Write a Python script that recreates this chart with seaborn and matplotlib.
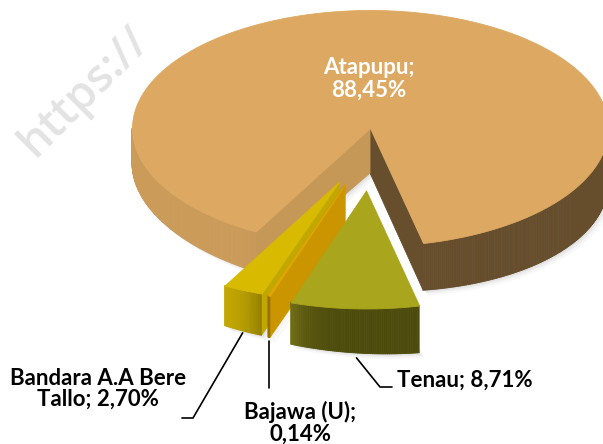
import numpy as np
import matplotlib
matplotlib.use("Agg")
import matplotlib.pyplot as plt
import matplotlib.colors as mcolors
from matplotlib.collections import PolyCollection
import seaborn as sns

# ---------------- data ----------------
names = ["Atapupu", "Bandara A.A Bere Tallo", "Bajawa (U)", "Tenau"]
shares = [88.45, 2.70, 0.14, 8.71]

# ---------------- styles ----------------
top_colors = ["#DDA962", "#D8BA00", "#E2A600", "#A9A51C"]
explode = [0.0, 0.50, 0.50, 0.53]
start_angle = -77.1

sns.set_theme(style="white")
plt.rcParams['font.family'] = ['Lato', 'DejaVu Sans']

W, H = 603, 444
fig = plt.figure(figsize=(W / 100, H / 100), dpi=100)
ax = fig.add_axes([0, 0, 1, 1])
ax.set_xlim(0, W)
ax.set_ylim(H, 0)
ax.axis('off')

CX, CY, RX, RY = 370.0, 128.0, 238.0, 118.0
D0, D1 = 45.0, 10.0   # wall depth, thicker on the right side
KX = 0.65             # horizontal share of the explosion offset


def depth(t):
    return D0 + D1 * np.cos(np.radians(t))


def wall_factor(t):
    t = t % 360
    return 0.46 + 0.46 / (1 + np.exp((t - 251.0) / 3.0))


def radial_factor(normal):
    return 0.43 + 0.47 * (0.5 + 0.5 * np.cos(np.radians(normal - 340)))


def shade(color, f):
    r, g, b = mcolors.to_rgb(color)
    return (r * f, g * f, b * f)


vals = np.array(shares, dtype=float)
bounds = start_angle + 360 * np.concatenate([[0], np.cumsum(vals)]) / vals.sum()

geo = []
for i, v in enumerate(vals):
    t1, t2 = bounds[i], bounds[i + 1]
    mid = np.radians((t1 + t2) / 2)
    ox = KX * explode[i] * RX * np.cos(mid)
    oy = -explode[i] * RY * np.sin(mid)
    geo.append((t1, t2, ox, oy))


def rim(t, ox, oy):
    r = np.radians(t)
    return CX + ox + RX * np.cos(r), CY + oy - RY * np.sin(r)


# watermark
ax.text(84, 92, "https://", rotation=45, rotation_mode="anchor", fontsize=33,
        color="#E3E3E3", ha="center", va="center", fontweight="semibold",
        family=["Open Sans", "DejaVu Sans"], zorder=0)

# soft shadow under the pieces
for i in range(len(vals)):
    t1, t2, ox, oy = geo[i]
    ts = np.linspace(t1, t2, max(3, int((t2 - t1) / 0.5)))
    xs, ys = rim(ts, ox, oy)
    ys = ys + depth(ts)
    ax0, ay0 = CX + ox, CY + oy + D0
    for k, a in ((5, 0.05), (3, 0.07), (1.5, 0.08)):
        poly = [(ax0 + k, ay0 + k)] + list(zip(xs + k, ys + k))
        ax.add_collection(PolyCollection([poly], facecolors=[(0.4, 0.4, 0.4, a)],
                                         edgecolors="none", zorder=0.5))

z = 1
for i in range(len(vals)):
    t1, t2, ox, oy = geo[i]
    col = top_colors[i]
    ax_x, ax_y = CX + ox, CY + oy
    polys, fcs = [], []
    # radial walls (start edge faces t1-90, end edge faces t2+90)
    for t_edge, normal in ((t1, t1 - 90), (t2, t2 + 90)):
        if np.sin(np.radians(normal)) < 0:
            px, py = rim(t_edge, ox, oy)
            polys.append([(ax_x, ax_y), (px, py), (px, py + depth(t_edge)), (ax_x, ax_y + D0)])
            fcs.append(shade(col, radial_factor(normal % 360)))
    # outer wall
    n = max(3, int((t2 - t1) / 0.5))
    ts = np.linspace(t1, t2, n)
    for a, b in zip(ts[:-1], ts[1:]):
        m = (a + b) / 2
        if np.sin(np.radians(m)) < 0:
            xa, ya = rim(a, ox, oy)
            xb, yb = rim(b, ox, oy)
            polys.append([(xa, ya), (xb, yb), (xb, yb + depth(b)), (xa, ya + depth(a))])
            fcs.append(shade(col, wall_factor(m)))
    ax.add_collection(PolyCollection(polys, facecolors=fcs, edgecolors=fcs,
                                     linewidths=0.6, zorder=z))
    z += 1
    # top face
    xs, ys = rim(ts, ox, oy)
    top = [(ax_x, ax_y)] + list(zip(xs, ys))
    ax.add_collection(PolyCollection([top], facecolors=[col], edgecolors=[col],
                                     linewidths=0.6, zorder=z))
    z += 1


def fmt(v):
    return f"{v:.2f}".replace(".", ",") + "%"


fs = 16
ax.text(369, 97, f"{names[0]};\n{fmt(shares[0])}", color="white", fontsize=fs,
        fontweight="bold", ha="center", va="baseline", linespacing=1.12, zorder=20)
ax.text(98, 406, "Bandara A.A Bere\nTallo; " + fmt(shares[1]), color="black", fontsize=fs,
        fontweight="bold", ha="center", va="baseline", linespacing=1.0, zorder=20)
ax.text(300, 441, f"{names[2]};\n{fmt(shares[2])}", color="black", fontsize=fs,
        fontweight="bold", ha="center", va="baseline", linespacing=1.06, zorder=20)
ax.text(397, 387, f"{names[3]}; {fmt(shares[3])}", color="black", fontsize=fs,
        fontweight="bold", ha="left", va="baseline", zorder=20)


# leader lines from slice fronts
def front(i):
    t1, t2, ox, oy = geo[i]
    tm = (t1 + t2) / 2
    x, y = rim(tm, ox, oy)
    return x, y + depth(tm)


bx, by = front(1)
ax.plot([bx, 193, 182], [by + 2, 418, 418], color="black", lw=1.2, zorder=15)
jx, jy = front(2)
ax.plot([jx, jx], [jy + 4, 388], color="black", lw=1.2, zorder=15)
tx, ty = front(3)
ax.plot([tx + 2, 380, 392], [ty + 5, 387, 387], color="black", lw=1.2, zorder=15)

fig.savefig("out.png", dpi=100)
